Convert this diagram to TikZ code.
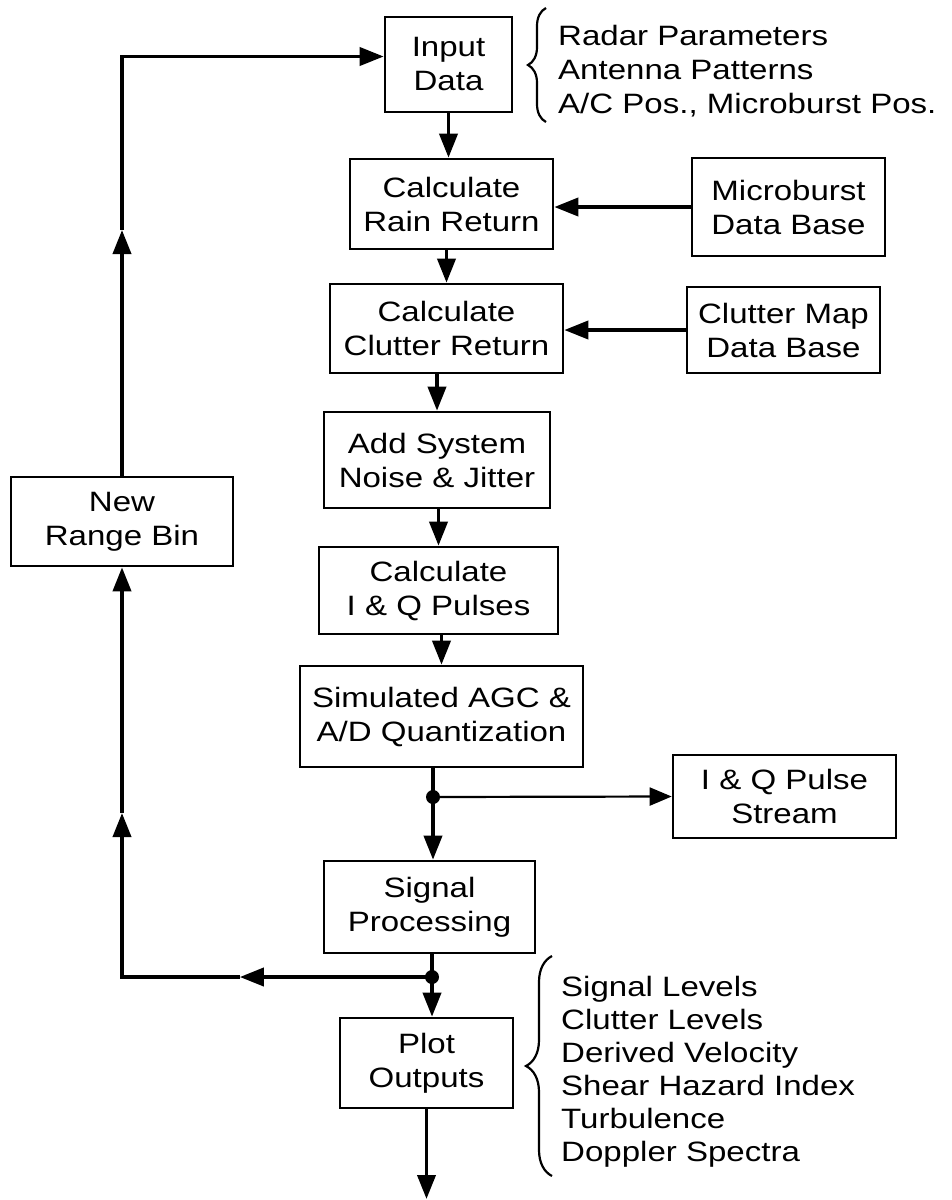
\documentclass[tikz,border=0pt]{standalone}
\usepackage{fontspec}
\setmainfont{Liberation Sans}[FakeStretch=1.18]
\usetikzlibrary{arrows.meta,calc,decorations.pathreplacing}
\begin{document}
\begin{tikzpicture}[x=1pt,y=-1pt,
  box/.style={draw, line width=2.6pt, align=center, inner sep=0pt,
    font=\fontsize{28}{34}\selectfont},
  listtext/.style={align=left, inner sep=0pt, anchor=west},
  conn/.style={line width=3.8pt},
  arr/.style={conn, -{Triangle[length=24pt,width=18pt]}},
  thinarr/.style={line width=2.2pt, -{Triangle[length=22pt,width=18pt]}},
  bracestyle/.style={line width=2.2pt, decorate},
  dot/.style={circle, fill, inner sep=0pt, minimum size=14pt}]
\useasboundingbox (0,0) rectangle (952,1200);

% boxes
\node[box, minimum width=127pt, minimum height=95pt] (input) at (448.5,64.5) {Input\\Data};
\node[box, minimum width=203pt, minimum height=90pt] (rain) at (451.5,204) {Calculate\\Rain Return};
\node[box, minimum width=193pt, minimum height=98pt] (micro) at (788.5,207) {Microburst\\Data Base};
\node[box, minimum width=233pt, minimum height=89pt] (clutter) at (446.5,328.5) {Calculate\\Clutter Return};
\node[box, minimum width=193pt, minimum height=86pt] (cmap) at (783.5,330) {Clutter Map\\Data Base};
\node[box, minimum width=226pt, minimum height=96pt] (noise) at (437,460) {Add System\\Noise \& Jitter};
\node[box, minimum width=239pt, minimum height=87pt] (iq) at (438.5,590.5) {Calculate\\I \& Q Pulses};
\node[box, minimum width=283pt, minimum height=101pt] (agc) at (441.5,716.5) {Simulated AGC \&\\A/D Quantization};
\node[box, minimum width=223pt, minimum height=83pt] (stream) at (784.5,796.5) {I \& Q Pulse\\Stream};
\node[box, minimum width=211pt, minimum height=92pt] (sig) at (429.5,907) {Signal\\Processing};
\node[box, minimum width=173pt, minimum height=90pt] (plot) at (426.5,1063) {Plot\\Outputs};
\node[box, minimum width=222pt, minimum height=89pt] (newbin) at (122,521.5) {New\\Range Bin};

% text lists
\node[listtext, font=\fontsize{28}{34}\selectfont] (params) at (558,71)
  {Radar Parameters\\Antenna Patterns\\A/C Pos., Microburst Pos.};
\node[listtext, font=\fontsize{28}{33}\selectfont] (outs) at (561,1072)
  {Signal Levels\\Clutter Levels\\Derived Velocity\\Shear Hazard Index\\Turbulence\\Doppler Spectra};

% braces
\draw[bracestyle, decoration={brace, amplitude=18pt}] (546,122) -- (546,8);
\draw[bracestyle, decoration={brace, amplitude=26pt}] (552,1176) -- (552,956);

% main column
\draw[arr] (input.south) -- (input.south |- rain.north);
\draw[arr] (micro.west) -- (micro.west -| rain.east);
\draw[arr] (clutter.north |- rain.south) -- (clutter.north);
\draw[arr] (cmap.west) -- (cmap.west -| clutter.east);
\draw[arr] (noise.north |- clutter.south) -- (noise.north);
\draw[arr] (iq.north |- noise.south) -- (iq.north);
\draw[arr] (agc.north |- iq.south) -- (agc.north);

% first junction
\coordinate (j1) at (433,797);
\draw[conn] (j1 |- agc.south) -- (j1);
\draw[arr] (j1) -- (j1 |- sig.north);
\draw[thinarr] (j1) -- (stream.west);
\node[dot] (d1) at (j1) {};

% second junction
\coordinate (j2) at (432,977);
\draw[conn] (j2 |- sig.south) -- (j2);
\draw[arr] (j2) -- (j2 |- plot.north);
\node[dot] (d2) at (j2) {};

% feedback loop
\coordinate (c1) at (newbin.south |- j2);
\coordinate (m1) at ($(j2)!0.62!(c1)$);
\coordinate (y813) at (0,813);
\coordinate (m2) at (newbin.south |- y813);
\draw[arr] (j2) -- (m1);
\draw[arr, line join=miter] (m1) -- (c1) -- (m2);
\draw[arr] (m2) -- (newbin.south);
\coordinate (y230) at (0,230);
\coordinate (m3) at (newbin.north |- y230);
\draw[arr] (newbin.north) -- (m3);
\coordinate (inw) at ($(input.west)+(0,-8)$);
\coordinate (c2) at (newbin.north |- inw);
\draw[arr, line join=miter] (m3) -- (c2) -- (inw);

% output
\coordinate (yend) at (0,1199);
\coordinate (out) at (plot.south |- yend);
\draw[arr] (plot.south) -- (out);
\end{tikzpicture}
\end{document}
